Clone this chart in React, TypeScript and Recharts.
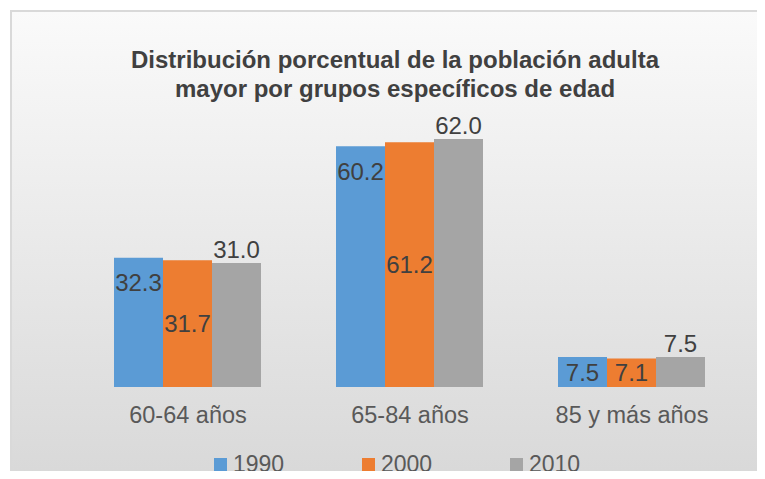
import React from "react";
import { BarChart, Bar, XAxis, YAxis, Legend, LabelList } from "recharts";

const categories = ["60-64 años", "65-84 años", "85 y más años"];
const years = ["1990", "2000", "2010"];
const values1990 = [32.3, 60.2, 7.5];
const values2000 = [31.7, 61.2, 7.1];
const values2010 = [31.0, 62.0, 7.5];

const colors = ["#5b9bd5", "#ed7d31", "#a5a5a5"];
const font = "'Liberation Sans', Arial, sans-serif";

const data = categories.map((name, i) => ({
  name,
  y1990: values1990[i],
  y2000: values2000[i],
  y2010: values2010[i],
}));

// Excel puts the "inside end" label a bit below the top, but centred on short bars
function InsideEndLabel(props: any) {
  const { x, y, width, height, value } = props;
  const cy = y + Math.min(25, height / 2);
  return (
    <text
      x={x + width / 2}
      y={cy}
      textAnchor="middle"
      dominantBaseline="central"
      fill="#404040"
      fontSize={24}
      fontFamily={font}
    >
      {value.toFixed(1)}
    </text>
  );
}

function YearLegend() {
  return (
    <div style={{ display: "flex", height: 30, alignItems: "center", fontFamily: font }}>
      {years.map((y, i) => (
        <div key={y} style={{ width: 148, display: "flex", alignItems: "center" }}>
          <span style={{ width: 13, height: 13, background: colors[i], marginRight: 6 }} />
          <span style={{ fontSize: 23, color: "#595959" }}>{y}</span>
        </div>
      ))}
    </div>
  );
}

export default function App() {
  const fmt = (v: any) => Number(v).toFixed(1);
  return (
    <div style={{ position: "relative", width: 765, height: 479, margin: -8, overflow: "hidden", background: "#fff" }}>
      <div
        style={{
          position: "absolute",
          left: 10,
          top: 10,
          width: 790,
          height: 500,
          borderTop: "2px solid #d9d9d9",
          borderLeft: "2px solid #d9d9d9",
          background: "linear-gradient(#fafafa, #d6d6d6)",
        }}
      />
      <div
        style={{
          position: "absolute",
          left: 10,
          top: 45,
          width: 770,
          textAlign: "center",
          fontFamily: font,
          fontWeight: "bold",
          fontSize: 24,
          lineHeight: "29px",
          color: "#404040",
        }}
      >
        Distribución porcentual de la población adulta
        <br />
        mayor por grupos específicos de edad
      </div>
      <div style={{ position: "absolute", left: 0, top: 0 }}>
        <BarChart
          width={765}
          height={479}
          data={data}
          margin={{ top: 107, right: 22, left: 77, bottom: 0 }}
          barCategoryGap="16.67%"
          barGap={0}
        >
          <XAxis
            dataKey="name"
            axisLine={false}
            tickLine={false}
            tickSize={0}
            tickMargin={19}
            height={62}
            tick={{ fill: "#595959", fontSize: 23.5, fontFamily: font }}
          />
          <YAxis hide domain={[0, 70]} />
          <Legend
            verticalAlign="bottom"
            content={<YearLegend />}
            wrapperStyle={{ left: 214, width: 444 }}
          />
          <Bar dataKey="y1990" name="1990" fill={colors[0]} isAnimationActive={false}>
            <LabelList dataKey="y1990" content={<InsideEndLabel />} />
          </Bar>
          <Bar dataKey="y2000" name="2000" fill={colors[1]} isAnimationActive={false}>
            <LabelList
              dataKey="y2000"
              position="center"
              formatter={fmt}
              fill="#404040"
              fontSize={24}
              fontFamily={font}
            />
          </Bar>
          <Bar dataKey="y2010" name="2010" fill={colors[2]} isAnimationActive={false}>
            <LabelList
              dataKey="y2010"
              position="top"
              offset={5}
              formatter={fmt}
              fill="#404040"
              fontSize={24}
              fontFamily={font}
            />
          </Bar>
        </BarChart>
      </div>
    </div>
  );
}
